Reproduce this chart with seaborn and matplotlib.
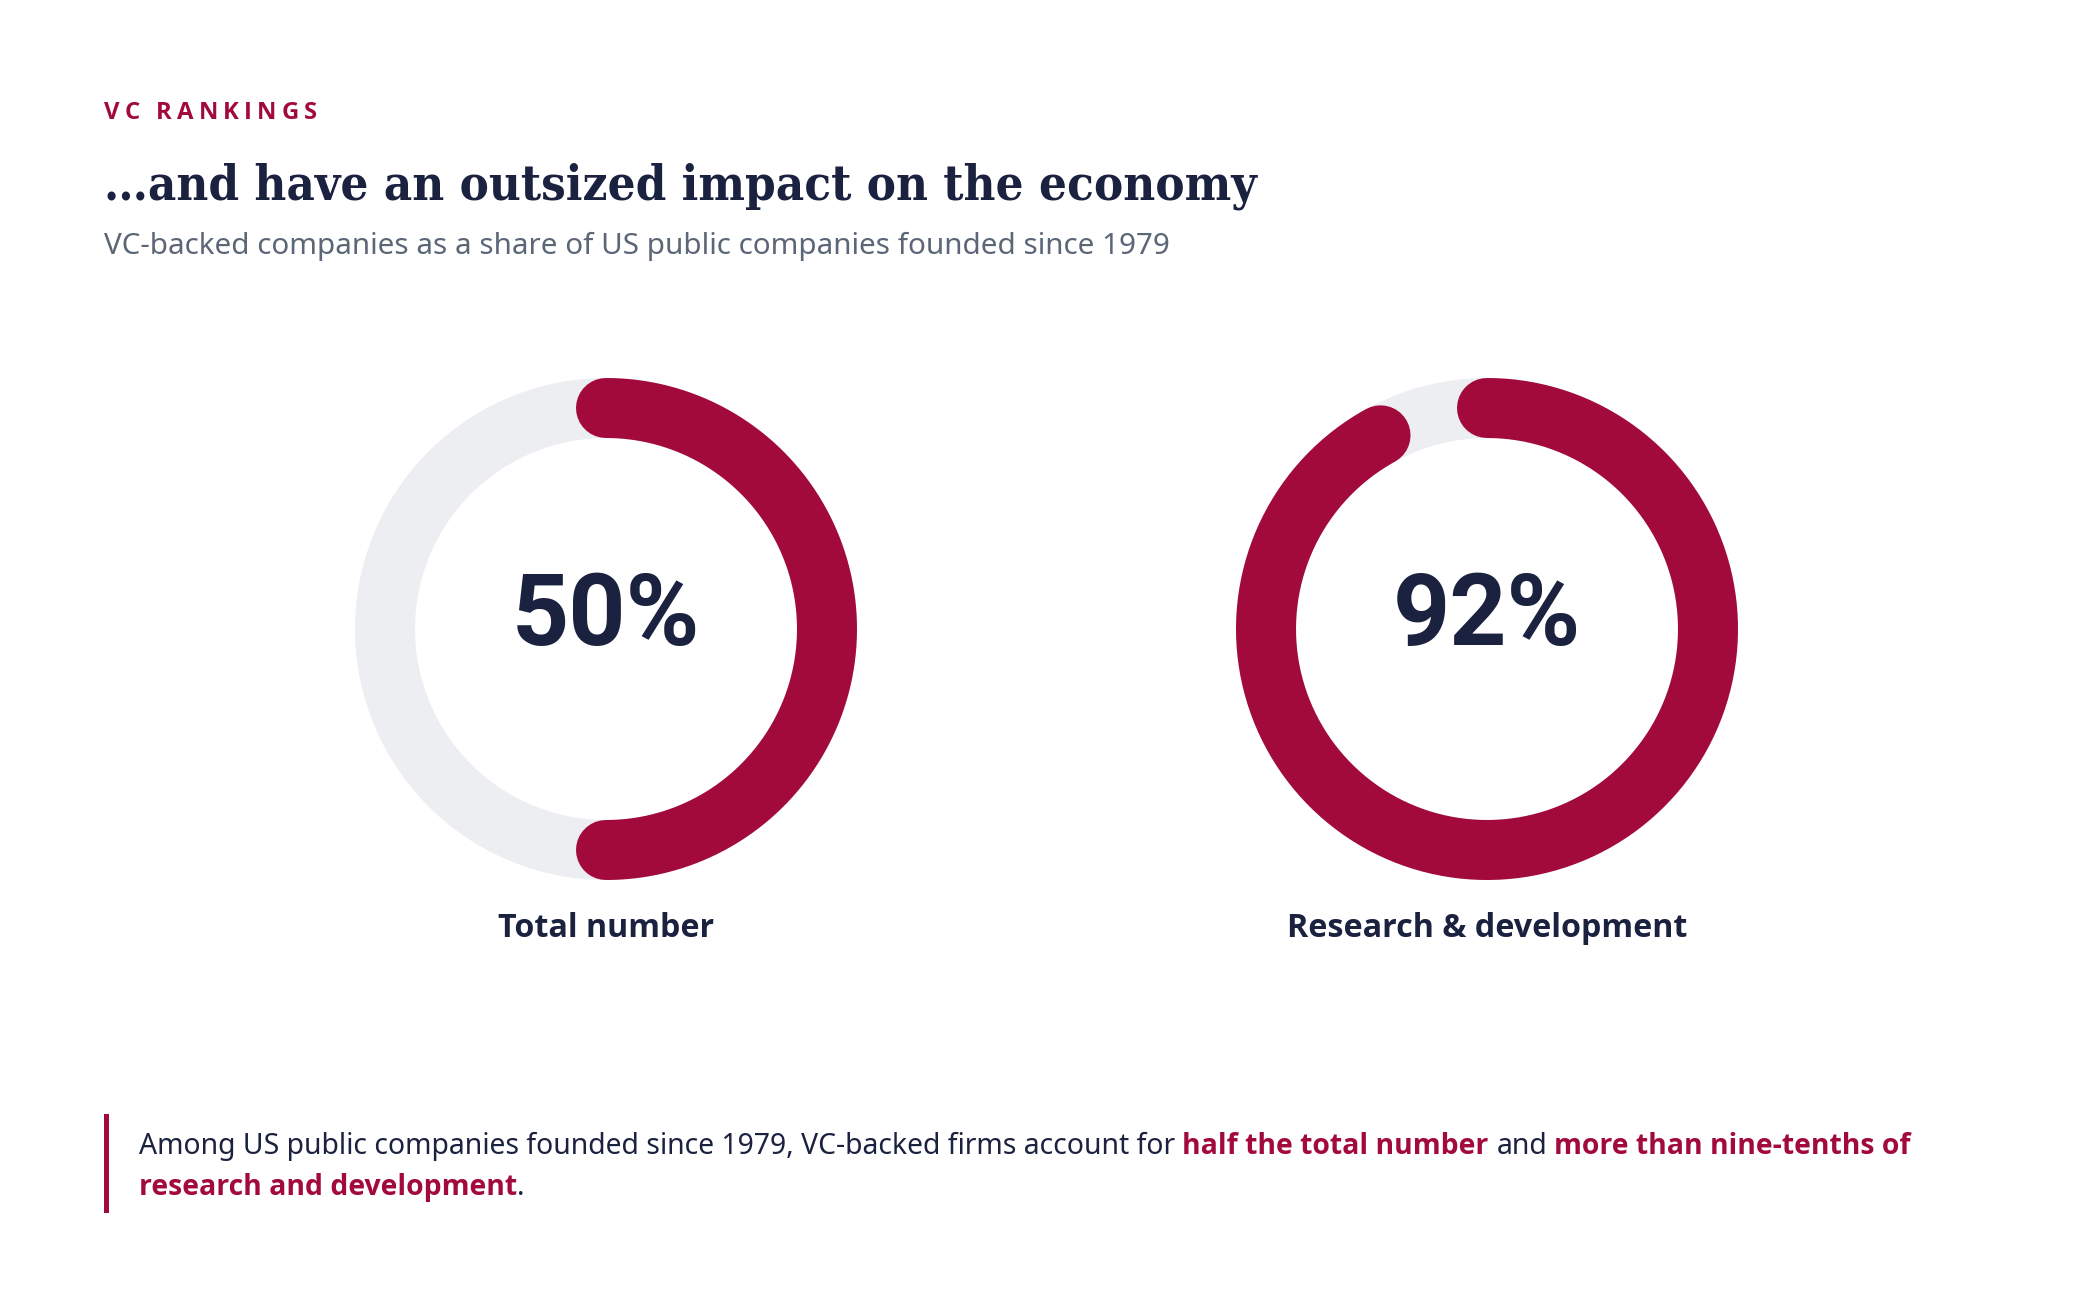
import numpy as np
import seaborn as sns
import matplotlib.pyplot as plt
from matplotlib import font_manager
from matplotlib.patches import Rectangle

# chart data
categories = ["Total number", "Research & development"]
shares = [50, 92]

kicker = "VC RANKINGS"
title = "\u2026and have an outsized impact on the economy"
subtitle = "VC-backed companies as a share of US public companies founded since 1979"

# (text, highlighted)
note_line1 = [
    ("Among US public companies founded since 1979, VC-backed firms account for", False),
    ("half the total number", True),
    ("and", False),
    ("more than nine-tenths of", True),
]
note_line2 = [
    ("research and development", True),
    (".", False),
]

RED = "#A20A3C"
NAVY = "#1B2240"
GREY_TXT = "#5B6676"
RING = "#EDEEF1"

sns.set_theme(style="white")
plt.rcParams["font.family"] = ["Noto Sans", "DejaVu Sans"]


def has_bold(name):
    for f in font_manager.fontManager.ttflist:
        w = f.weight if isinstance(f.weight, int) else 700 if "bold" in str(f.weight) else 400
        if f.name == name and w >= 600 and f.style == "normal":
            return True
    return False


BOLD_FAM = next((n for n in ["Noto Sans", "Open Sans", "Lato", "Roboto"] if has_bold(n)),
                "DejaVu Sans")
bold_family = [BOLD_FAM, "DejaVu Sans"]

W, H = 2088, 1296
fig = plt.figure(figsize=(W / 100, H / 100), dpi=100)
fig.patch.set_facecolor("white")
renderer = fig.canvas.get_renderer()


def fx(x):
    return x / W


def fy(y):
    return 1 - y / H


def measure(s, **kw):
    t = fig.text(0, 0, s, **kw)
    w = t.get_window_extent(renderer).width
    t.remove()
    return w


def fit_size(s, target, **kw):
    return 20 * target / measure(s, fontsize=20, **kw)


# kicker with letter spacing
k_kw = dict(fontsize=17.2, family=bold_family, fontweight="bold", color=RED)
space_w = measure("n n", **k_kw) - measure("nn", **k_kw)
widths = [space_w if c == " " else measure(c, **k_kw) for c in kicker]
track = (213 - sum(widths)) / (len(kicker) - 1)
x = 104
for c, w in zip(kicker, widths):
    if c != " ":
        fig.text(fx(x), fy(119), c, va="baseline", ha="left", **k_kw)
    x += w + track

# title
t_kw = dict(family=["DejaVu Serif"], fontweight="bold", color=NAVY)
cond = [f for f in font_manager.fontManager.ttflist
        if f.name.startswith("DejaVu Serif") and "ondensed" in f.fname and "Bold" in f.fname
        and "Italic" not in f.fname]
if cond:
    t_kw = dict(fontproperties=font_manager.FontProperties(fname=cond[0].fname), color=NAVY)
t_size = fit_size(title, 1152, **t_kw)
fig.text(fx(104), fy(200), title, fontsize=t_size, va="baseline", ha="left", **t_kw)

# subtitle
s_size = fit_size(subtitle, 1064)
fig.text(fx(104), fy(254), subtitle, fontsize=s_size, color=GREY_TXT,
         va="baseline", ha="left")

# donuts
centers_x = [606, 1487]
cy = 629
side = 600
ring_r = 221 / (side / 2)
lw = 60 * 0.72

for cat, share, cx in zip(categories, shares, centers_x):
    ax = fig.add_axes([fx(cx - side / 2), fy(cy + side / 2), side / W, side / H],
                      projection="polar")
    ax.set_theta_zero_location("N")
    ax.set_theta_direction(-1)
    full = np.linspace(0, 2 * np.pi, 361)
    sns.lineplot(x=full, y=np.full_like(full, ring_r), ax=ax, color=RING,
                 linewidth=lw, sort=False, estimator=None, solid_capstyle="butt")
    arc = np.linspace(0, 2 * np.pi * share / 100, 300)
    sns.lineplot(x=arc, y=np.full_like(arc, ring_r), ax=ax, color=RED,
                 linewidth=lw, sort=False, estimator=None, solid_capstyle="round")
    ax.set_ylim(0, 1)
    ax.set_axis_off()

    num = f"{share}%"
    n_kw = dict(family=["Roboto"], fontweight="bold", color=NAVY)
    n_size = fit_size(num, 188, **n_kw)
    fig.text(fx(cx), fy(645), num, fontsize=n_size, ha="center", va="baseline", **n_kw)

    l_kw = dict(family=bold_family, fontweight="bold", color=NAVY)
    l_size = fit_size(categories[1], 400, **l_kw)
    fig.text(fx(cx), fy(937), cat, fontsize=l_size, ha="center", va="baseline", **l_kw)

# bottom note
fig.add_artist(Rectangle((fx(104), fy(1213)), 5 / W, 99 / H, transform=fig.transFigure,
                         facecolor=RED, edgecolor="none"))


def run_kw(hl, size):
    if hl:
        return dict(fontsize=size, family=bold_family, fontweight="bold", color=RED)
    return dict(fontsize=size, fontweight="normal", color=NAVY)


def line_width(runs, size):
    sp = measure("n n", fontsize=size) - measure("nn", fontsize=size)
    total = 0
    for i, (txt, hl) in enumerate(runs):
        if i > 0 and txt != ".":
            total += sp
        total += measure(txt, **run_kw(hl, size))
    return total


def draw_runs(runs, x0, y, size):
    sp = measure("n n", fontsize=size) - measure("nn", fontsize=size)
    x = x0
    for i, (txt, hl) in enumerate(runs):
        if i > 0 and txt != ".":
            x += sp
        kw = run_kw(hl, size)
        fig.text(fx(x), fy(y), txt, ha="left", va="baseline", **kw)
        x += measure(txt, **kw)


b_size = 20 * 1772 / line_width(note_line1, 20)
draw_runs(note_line1, 139, 1154, b_size)
draw_runs(note_line2, 139, 1195, b_size)

fig.savefig("out.png", dpi=100, facecolor="white")
